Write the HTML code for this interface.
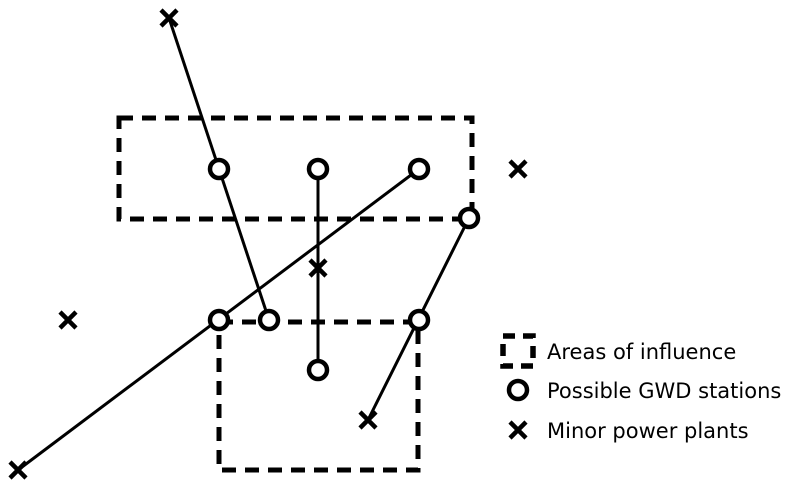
<!DOCTYPE html>
<html><head><style>html,body{margin:0;padding:0;background:#fff;width:788px;height:492px;overflow:hidden}</style></head>
<body>
<svg width="788" height="492" viewBox="0 0 788 492" xmlns="http://www.w3.org/2000/svg">
<defs>
<g id="c"><circle r="9" fill="#fff" stroke="#000" stroke-width="4.5"/></g>
<g id="x"><path d="M-8,-8L8,8M8,-8L-8,8" stroke="#000" stroke-width="4.5"/></g>
</defs>
<g fill="none" stroke="#000" stroke-width="5" stroke-dasharray="14 9">
<rect x="119" y="118" width="353" height="101"/>
<rect x="219" y="322" width="199" height="148"/>
</g>
<g stroke="#000" stroke-width="3" fill="none">
<line x1="169" y1="18" x2="269" y2="320"/>
<line x1="318" y1="169" x2="318" y2="370"/>
<line x1="419" y1="169" x2="18" y2="470"/>
<line x1="469" y1="218" x2="368" y2="420"/>
</g>
<use href="#c" x="219" y="169"/><use href="#c" x="318" y="169"/><use href="#c" x="419" y="169"/>
<use href="#c" x="469" y="218"/><use href="#c" x="219" y="320"/><use href="#c" x="269" y="320"/>
<use href="#c" x="419" y="320"/><use href="#c" x="318" y="370"/><use href="#c" x="518" y="390"/>
<use href="#x" x="169" y="18"/><use href="#x" x="518" y="169"/><use href="#x" x="318" y="268"/>
<use href="#x" x="68" y="320"/><use href="#x" x="368" y="420"/><use href="#x" x="18" y="470"/>
<use href="#x" x="518" y="430"/>
<rect x="503" y="336" width="30" height="30" fill="none" stroke="#000" stroke-width="5.5" stroke-dasharray="12 8"/>
<g font-family="DejaVu Sans, sans-serif" font-size="21" fill="#000">
<text x="547" y="359">Areas of influence</text>
<text x="547" y="398">Possible GWD stations</text>
<text x="547" y="438">Minor power plants</text>
</g>
</svg>
</body></html>
